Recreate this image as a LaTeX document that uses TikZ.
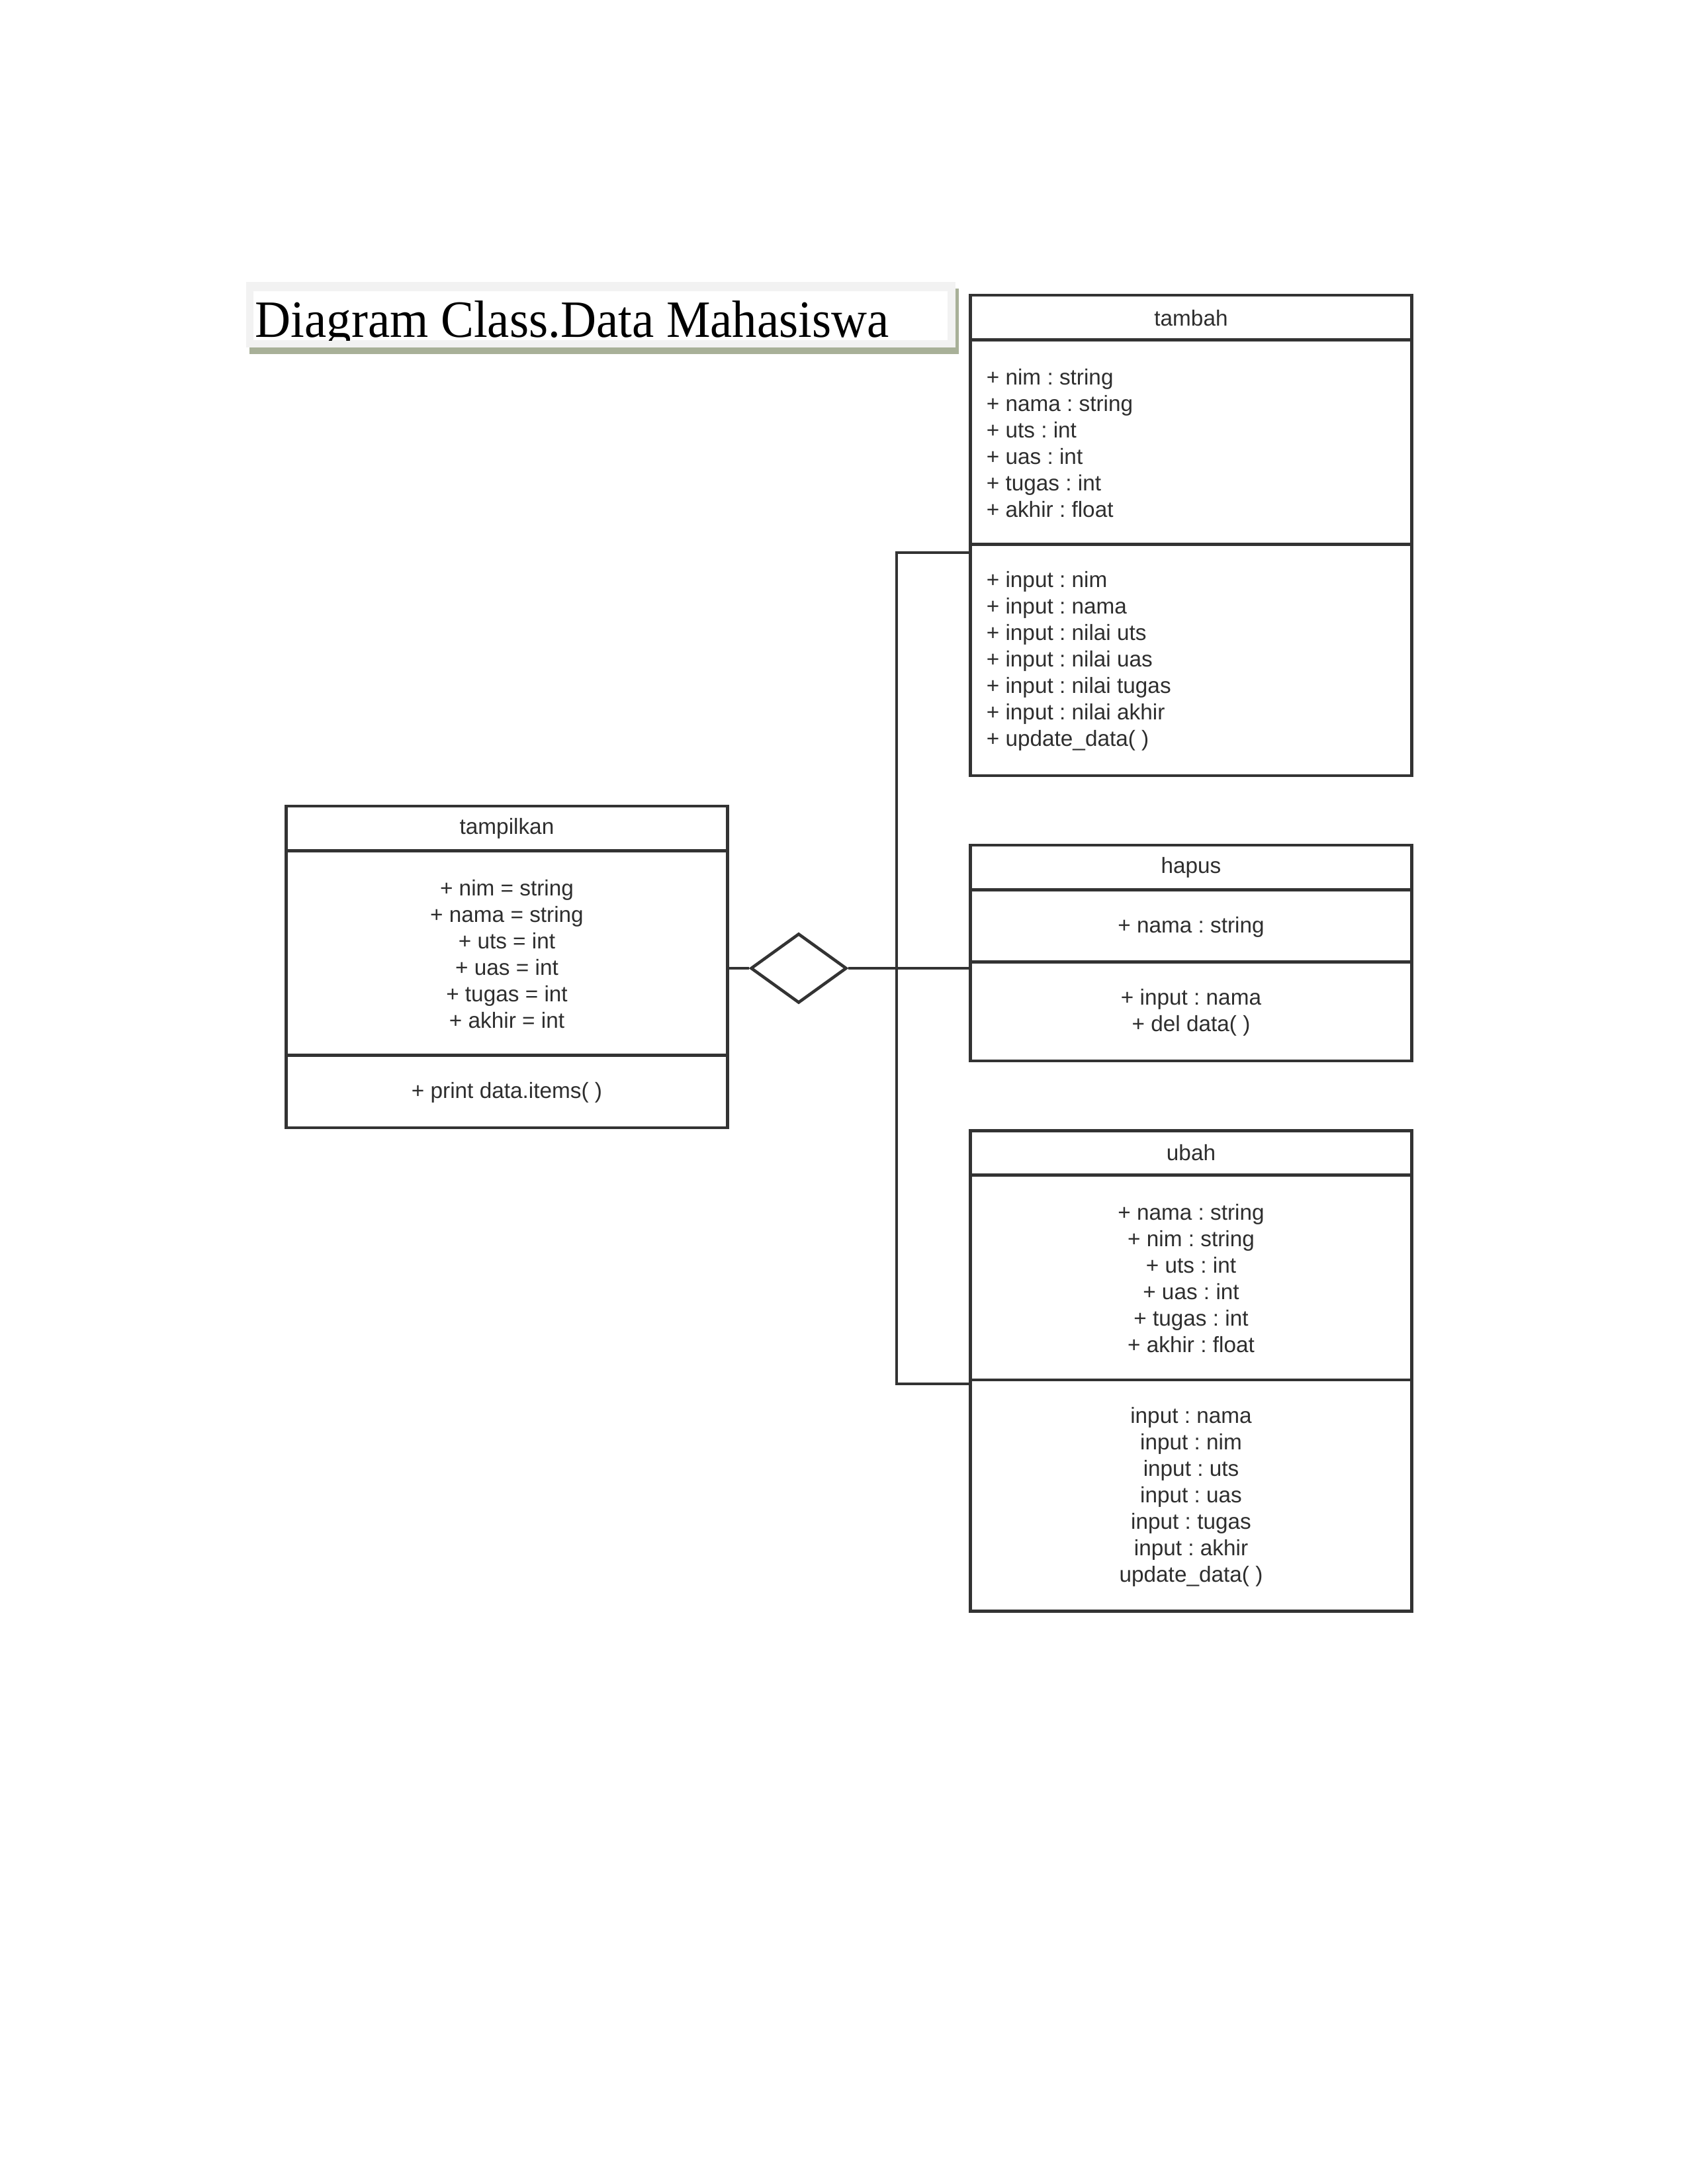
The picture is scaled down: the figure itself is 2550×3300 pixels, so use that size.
\documentclass[tikz,border=0pt]{standalone}
\usepackage{fontspec}
\setmainfont{Liberation Serif}
\newfontfamily\umlfont{Liberation Sans}
\usetikzlibrary{shapes.geometric}
\definecolor{ln}{HTML}{333333}
\definecolor{txt}{HTML}{2E2E2E}
\definecolor{titlegray}{HTML}{F2F2F2}
\definecolor{shadowgreen}{HTML}{A8B098}
\frenchspacing
\begin{document}
\begin{tikzpicture}[x=0.24pt,y=-0.24pt,
  classbox/.style={draw=ln, line width=1.1pt, rectangle, inner sep=0pt, minimum width=160pt},
  umltext/.style={font=\umlfont\frenchspacing\fontsize{8}{9.6}\selectfont, text=txt, inner sep=0pt},
  sep/.style={draw=ln, line width=1.1pt},
  conn/.style={draw=ln, line width=1.1pt}]
\useasboundingbox[fill=white] (0,0) rectangle (2550,3300);

% title
\fill[shadowgreen] (377,436) rectangle (1449,535);
\fill[titlegray] (372,426) rectangle (1444,525);
\fill[white] (383,440) rectangle (1432,514);
\begin{scope}
\clip (383,440) rectangle (1432,514);
\node[anchor=base west, inner sep=0pt, font=\fontsize{19}{19}\selectfont, xscale=0.945] (title) at (385,509) {Diagram Class.Data Mahasiswa};
\end{scope}

% tambah
\node[classbox, minimum height=174.24pt] (tambah) at (1800,809) {};
\draw[sep] ([yshift=-16.68pt]tambah.north west) -- ([yshift=-16.68pt]tambah.north east);
\draw[sep] ([yshift=-90.96pt]tambah.north west) -- ([yshift=-90.96pt]tambah.north east);
\node[umltext] (tambah-t) at (1800,481) {tambah};
\node[umltext, anchor=west, align=left] (tambah-a) at (1490,670) {+ nim : string\\+ nama : string\\+ uts : int\\+ uas : int\\+ tugas : int\\+ akhir : float};
\node[umltext, anchor=west, align=left] (tambah-m) at (1490,999) {+ input : nim\\+ input : nama\\+ input : nilai uts\\+ input : nilai uas\\+ input : nilai tugas\\+ input : nilai akhir\\+ update\_data( )};

% tampilkan
\node[classbox, minimum height=116.64pt] (tampilkan) at (766,1461) {};
\draw[sep] ([yshift=-16.7pt]tampilkan.north west) -- ([yshift=-16.7pt]tampilkan.north east);
\draw[sep] ([yshift=-90.96pt]tampilkan.north west) -- ([yshift=-90.96pt]tampilkan.north east);
\node[umltext] (tampilkan-t) at (766,1252) {tampilkan};
\node[umltext, align=center] (tampilkan-a) at (766,1442) {+ nim = string\\+ nama = string\\+ uts = int\\+ uas = int\\+ tugas = int\\+ akhir = int};
\node[umltext] (tampilkan-m) at (766,1651) {+ print data.items( )};

% hapus
\node[classbox, minimum height=78.24pt] (hapus) at (1800,1440) {};
\draw[sep] ([yshift=-16.7pt]hapus.north west) -- ([yshift=-16.7pt]hapus.north east);
\draw[sep] ([yshift=-42.96pt]hapus.north west) -- ([yshift=-42.96pt]hapus.north east);
\node[umltext] (hapus-t) at (1800,1311) {hapus};
\node[umltext] (hapus-a) at (1800,1401) {+ nama : string};
\node[umltext, align=center] (hapus-m) at (1800,1530) {+ input : nama\\+ del data( )};

% ubah
\node[classbox, minimum height=174.24pt] (ubah) at (1800,2071.4) {};
\draw[sep] ([yshift=-16.7pt]ubah.north west) -- ([yshift=-16.7pt]ubah.north east);
\draw[sep] ([yshift=-90.9pt]ubah.north west) -- ([yshift=-90.9pt]ubah.north east);
\node[umltext] (ubah-t) at (1800,1742) {ubah};
\node[umltext, align=center] (ubah-a) at (1800,1932) {+ nama : string\\+ nim : string\\+ uts : int\\+ uas : int\\+ tugas : int\\+ akhir : float};
\node[umltext, align=center] (ubah-m) at (1800,2262) {input : nama\\input : nim\\input : uts\\input : uas\\input : tugas\\input : akhir\\update\_data( )};

% aggregation diamond and connectors
\node[diamond, draw=ln, line width=1.1pt, inner sep=0pt, minimum width=34.8pt, minimum height=25.2pt] (dia) at (1207,1463) {};
\coordinate (bt) at (1355,835);
\coordinate (bb) at (1355,2091);
\draw[conn] (tampilkan.east |- dia.west) -- (dia.west);
\draw[conn] (dia.east) -- (hapus.west |- dia.east);
\draw[conn] (tambah.west |- bt) -- (bt) -- (bb) -- (ubah.west |- bb);
\end{tikzpicture}
\end{document}
